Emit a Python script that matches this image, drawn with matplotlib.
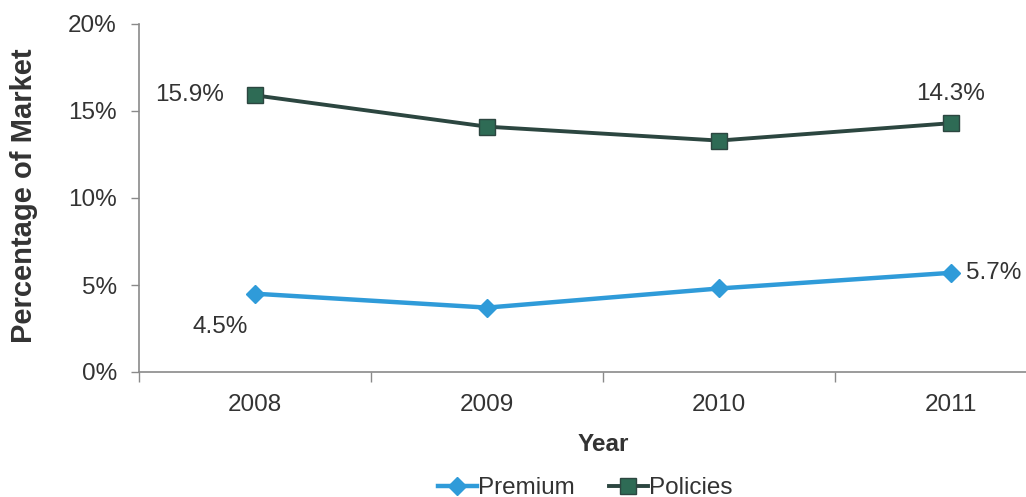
import matplotlib.pyplot as plt
from matplotlib.ticker import FixedLocator, FuncFormatter

plt.rcParams['font.family'] = ['Liberation Sans', 'DejaVu Sans']

# Data
years = ['2008', '2009', '2010', '2011']
premium = [4.5, 3.7, 4.8, 5.7]
policies = [15.9, 14.1, 13.3, 14.3]

premium_color = '#2f9bd9'
policies_line = '#2c4640'
policies_marker = '#2e6b55'
text_color = '#333333'
axis_color = '#8a8a8a'
fs = 17.5

fig = plt.figure(figsize=(10.26, 4.97), dpi=100)
# axes runs past the right edge, as in the original crop
ax = fig.add_axes([139 / 1026, 125 / 497, 928 / 1026, 348 / 497])

x = list(range(len(years)))
ax.plot(x, premium, color=premium_color, lw=3.2, marker='D', ms=9,
        mfc=premium_color, mec=premium_color, label='Premium')
ax.plot(x, policies, color=policies_line, lw=2.8, marker='s', ms=12,
        mfc=policies_marker, mec=policies_line, label='Policies')

ax.set_xlim(-0.5, len(years) - 0.5)
ax.set_ylim(0, 20)

ax.set_yticks([0, 5, 10, 15, 20])
ax.yaxis.set_major_formatter(FuncFormatter(lambda v, p: f'{v:.0f}%'))
ax.set_xticks(x)
ax.set_xticklabels(years)
ax.xaxis.set_minor_locator(FixedLocator([i + 0.5 for i in range(-1, len(years))]))
ax.tick_params(axis='x', which='major', length=0, pad=16, labelsize=fs, colors=text_color)
ax.tick_params(axis='x', which='minor', length=7, width=1, color=axis_color, direction='out')
ax.tick_params(axis='y', length=6, width=1, color=axis_color, pad=10, labelsize=fs,
               labelcolor=text_color)

for s in ['top', 'right']:
    ax.spines[s].set_visible(False)
for s in ['left', 'bottom']:
    ax.spines[s].set_color(axis_color)
    ax.spines[s].set_linewidth(1.2)

# value labels
lab = dict(fontsize=fs, color=text_color, textcoords='offset points',
           ha='center', va='center')
ax.annotate(f'{policies[0]}%', (0, policies[0]), xytext=(-47, 0), **lab)
ax.annotate(f'{policies[3]}%', (3, policies[3]), xytext=(0, 21), **lab)
ax.annotate(f'{premium[0]}%', (0, premium[0]), xytext=(-25, -24), **lab)
ax.annotate(f'{premium[3]}%', (3, premium[3]), xytext=(31, 0), **lab)

ax.set_xlabel('Year', fontsize=fs, fontweight='bold', color=text_color, labelpad=12)
fig.text(24 / 1026, 1 - 196 / 497, 'Percentage of Market', rotation=90, ha='center',
         va='center', fontsize=21, fontweight='bold', color=text_color)

fig.legend(loc='center', bbox_to_anchor=(585 / 1026, 9 / 497), ncol=2, frameon=False,
           fontsize=fs, handlelength=1.6, handletextpad=0.05, columnspacing=1.4,
           labelcolor=text_color)

fig.savefig('out.png', dpi=100)
